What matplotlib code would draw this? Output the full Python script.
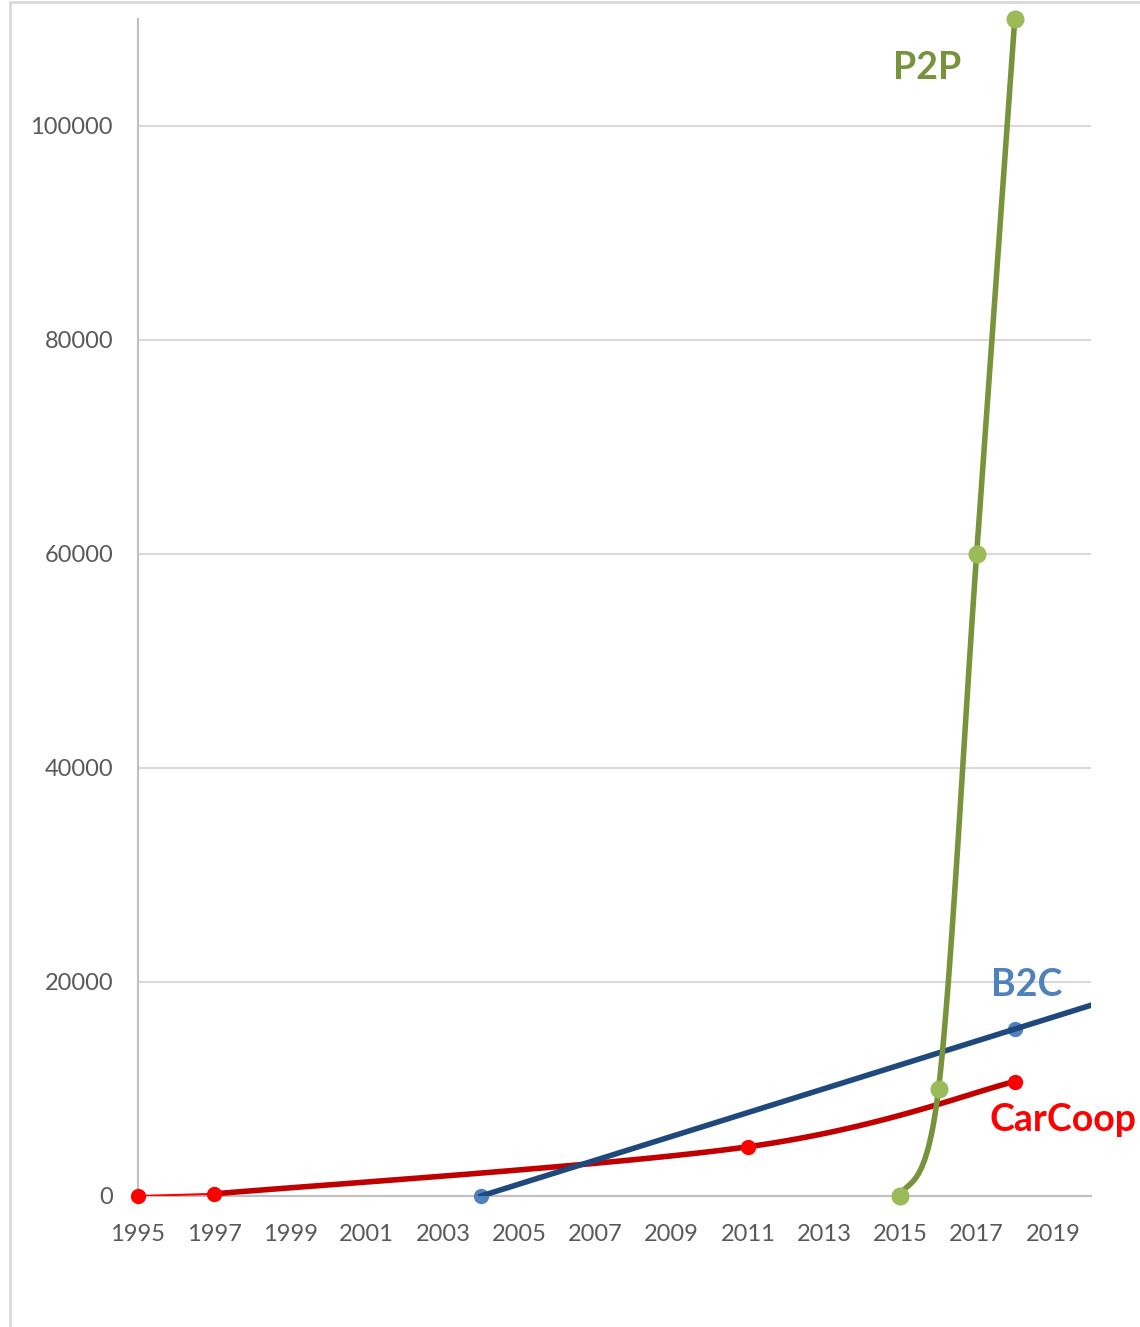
import numpy as np
import matplotlib.pyplot as plt
from matplotlib.patches import Rectangle

plt.rcParams["font.family"] = ["Lato", "DejaVu Sans"]

# car sharing members per year
carcoop_years = [1995, 1997, 2011, 2018]
carcoop_values = [0, 200, 4600, 10700]

b2c_years = [2004, 2018]
b2c_values = [0, 15600]

p2p_years = [2015, 2016, 2017, 2018]
p2p_values = [0, 10000, 60000, 110000]

x_ticks = list(range(1995, 2020, 2))
y_ticks = [0, 20000, 40000, 60000, 80000, 100000]


def smooth(xs, ys, n=40):
    # Catmull-Rom style smoothing, similar to spreadsheet smoothed lines
    xs = np.asarray(xs, float)
    ys = np.asarray(ys, float)
    px = np.concatenate([[xs[0]], xs, [xs[-1]]])
    py = np.concatenate([[ys[0]], ys, [ys[-1]]])
    out_x, out_y = [], []
    for i in range(1, len(px) - 2):
        p0, p1, p2, p3 = (np.array([px[j], py[j]]) for j in (i - 1, i, i + 1, i + 2))
        c1 = p1 + (p2 - p0) / 6
        c2 = p2 - (p3 - p1) / 6
        t = np.linspace(0, 1, n)[:, None]
        pts = ((1 - t) ** 3) * p1 + 3 * ((1 - t) ** 2) * t * c1 + 3 * (1 - t) * t ** 2 * c2 + t ** 3 * p2
        out_x.extend(pts[:, 0])
        out_y.extend(pts[:, 1])
    return np.array(out_x), np.array(out_y)


fig = plt.figure(figsize=(11.4, 13.27), dpi=100)
fig.patches.append(Rectangle((10 / 1140, -0.01), 1.1, 1 - 2 / 1327 + 0.01,
                             transform=fig.transFigure, fill=False,
                             edgecolor="#D9D9D9", linewidth=2))
ax = fig.add_axes([138 / 1140, (1327 - 1196) / 1327, (1091 - 138) / 1140, (1196 - 19) / 1327])

ax.set_xlim(1995, 2020)
ax.set_ylim(0, 110000)
ax.set_xticks(x_ticks)
ax.set_yticks(y_ticks)
ax.tick_params(length=0, labelsize=17, labelcolor="#595959")
ax.tick_params(axis="x", pad=20)
ax.tick_params(axis="y", pad=18)
ax.grid(axis="y", color="#D9D9D9", linewidth=1.5)
ax.set_axisbelow(True)
for side in ["top", "right"]:
    ax.spines[side].set_visible(False)
ax.spines["left"].set_color("#BFBFBF")
ax.spines["left"].set_linewidth(1.5)
ax.spines["bottom"].set_color("#BFBFBF")
ax.spines["bottom"].set_linewidth(1.5)

# CarCoop: thin data line plus thick smoothed trend
ax.plot(carcoop_years[:2], carcoop_values[:2], color="#FF0000", linewidth=1.5, zorder=3)
sx, sy = smooth(carcoop_years[1:], carcoop_values[1:])
ax.plot(sx, sy, color="#C00000", linewidth=4, zorder=3)
ax.plot(carcoop_years, carcoop_values, "o", color="#FF0000", markersize=10, zorder=5, clip_on=False)

# B2C: markers with linear trend extended to 2020
fit = np.polyfit(b2c_years, b2c_values, 1)
trend_x = np.array([b2c_years[0], 2020])
ax.plot(b2c_years, b2c_values, "o", color="#4F81BD", markersize=10, zorder=4, clip_on=False)
ax.plot(trend_x, np.polyval(fit, trend_x), color="#1F497D", linewidth=4, zorder=4)

# P2P smoothed line
sx, sy = smooth(p2p_years, p2p_values)
ax.plot(sx, sy, color="#77933C", linewidth=4, zorder=5, clip_on=False)
ax.plot(p2p_years, p2p_values, "o", color="#9BBB59", markersize=12, zorder=6, clip_on=False)

ax.text(2015.7, 105400, "P2P", color="#77933C", fontsize=27, fontweight="bold",
        ha="center", va="center")
ax.text(2018.32, 19700, "B2C", color="#4F81BD", fontsize=27, fontweight="bold",
        ha="center", va="center")
ax.text(2019.27, 7100, "CarCoop", color="#FF0000", fontsize=27, fontweight="bold",
        ha="center", va="center", clip_on=False)

plt.savefig("out.png", dpi=100)
plt.close()
